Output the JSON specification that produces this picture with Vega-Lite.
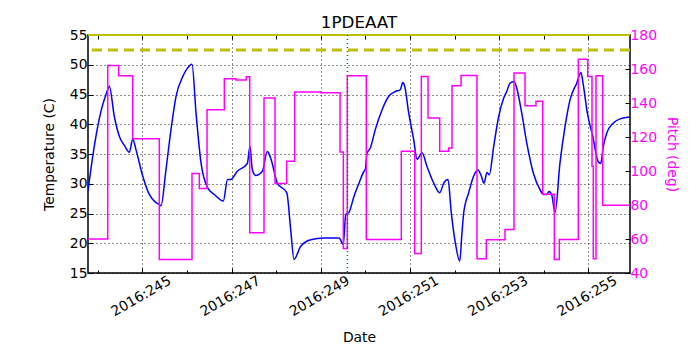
{
  "$schema": "https://vega.github.io/schema/vega-lite/v6.json",
  "autosize": {"type": "none"},
  "width": 542,
  "height": 238,
  "padding": {"left": 88, "top": 35, "right": 70, "bottom": 77},
  "background": "white",
  "title": {"text": "1PDEAAT", "font": "DejaVu Sans", "fontSize": 16.7, "fontWeight": "normal", "color": "black", "anchor": "middle", "offset": -4},
  "datasets": {
    "temp": [
      {"day": 243.782, "t": 28.8}, {"day": 243.888, "t": 34.6}, {"day": 244.0, "t": 39.6}, {"day": 244.112, "t": 43.3},
      {"day": 244.2, "t": 45.3}, {"day": 244.26, "t": 46.4}, {"day": 244.372, "t": 41.3}, {"day": 244.484, "t": 38.0},
      {"day": 244.6, "t": 36.4}, {"day": 244.709, "t": 35.3}, {"day": 244.785, "t": 37.5}, {"day": 244.859, "t": 35.7},
      {"day": 245.009, "t": 31.3}, {"day": 245.157, "t": 28.2}, {"day": 245.28, "t": 27.0}, {"day": 245.381, "t": 26.5},
      {"day": 245.419, "t": 26.3}, {"day": 245.531, "t": 32.4}, {"day": 245.643, "t": 39.1}, {"day": 245.756, "t": 44.7},
      {"day": 245.906, "t": 48.0}, {"day": 246.0, "t": 49.3}, {"day": 246.114, "t": 50.1}, {"day": 246.204, "t": 41.9},
      {"day": 246.316, "t": 33.5}, {"day": 246.466, "t": 29.3}, {"day": 246.614, "t": 28.2}, {"day": 246.816, "t": 27.1},
      {"day": 246.91, "t": 30.7}, {"day": 246.982, "t": 30.7}, {"day": 247.13, "t": 32.1}, {"day": 247.354, "t": 33.4},
      {"day": 247.415, "t": 36.3}, {"day": 247.466, "t": 32.4}, {"day": 247.543, "t": 31.4}, {"day": 247.691, "t": 32.1},
      {"day": 247.803, "t": 35.4}, {"day": 247.879, "t": 34.3}, {"day": 248.027, "t": 30.1}, {"day": 248.238, "t": 28.5},
      {"day": 248.327, "t": 22.3}, {"day": 248.401, "t": 17.3}, {"day": 248.552, "t": 19.5}, {"day": 248.776, "t": 20.6},
      {"day": 249.074, "t": 20.9}, {"day": 249.41, "t": 20.9}, {"day": 249.507, "t": 19.8}, {"day": 249.561, "t": 24.8},
      {"day": 249.634, "t": 25.2}, {"day": 249.747, "t": 27.9}, {"day": 249.859, "t": 30.1}, {"day": 249.971, "t": 32.1},
      {"day": 250.0, "t": 32.4}, {"day": 250.038, "t": 35.1}, {"day": 250.112, "t": 36.0}, {"day": 250.224, "t": 39.1},
      {"day": 250.374, "t": 42.4}, {"day": 250.525, "t": 44.7}, {"day": 250.673, "t": 45.5}, {"day": 250.785, "t": 45.8},
      {"day": 250.839, "t": 47.0}, {"day": 250.883, "t": 46.4}, {"day": 250.973, "t": 41.9}, {"day": 251.085, "t": 37.4},
      {"day": 251.159, "t": 34.1}, {"day": 251.271, "t": 35.2}, {"day": 251.383, "t": 32.9}, {"day": 251.534, "t": 30.1},
      {"day": 251.668, "t": 28.5}, {"day": 251.758, "t": 30.1}, {"day": 251.854, "t": 30.7}, {"day": 251.928, "t": 25.1},
      {"day": 252.018, "t": 20.1}, {"day": 252.117, "t": 17.0}, {"day": 252.168, "t": 21.8}, {"day": 252.206, "t": 25.1},
      {"day": 252.318, "t": 28.5}, {"day": 252.43, "t": 31.3}, {"day": 252.527, "t": 32.3}, {"day": 252.601, "t": 31.3},
      {"day": 252.661, "t": 30.1}, {"day": 252.729, "t": 31.9}, {"day": 252.78, "t": 31.5}, {"day": 252.879, "t": 36.3},
      {"day": 252.991, "t": 41.3}, {"day": 253.103, "t": 44.4}, {"day": 253.17, "t": 45.5}, {"day": 253.244, "t": 46.9},
      {"day": 253.334, "t": 47.2}, {"day": 253.395, "t": 46.1}, {"day": 253.507, "t": 41.9}, {"day": 253.619, "t": 36.9},
      {"day": 253.767, "t": 31.8}, {"day": 253.917, "t": 29.0}, {"day": 253.991, "t": 28.2}, {"day": 254.067, "t": 28.2},
      {"day": 254.119, "t": 28.7}, {"day": 254.179, "t": 28.2}, {"day": 254.253, "t": 25.1}, {"day": 254.365, "t": 33.5},
      {"day": 254.478, "t": 39.6}, {"day": 254.59, "t": 44.1}, {"day": 254.74, "t": 46.9}, {"day": 254.836, "t": 48.7},
      {"day": 254.888, "t": 46.6}, {"day": 254.978, "t": 41.9}, {"day": 255.099, "t": 38.0}, {"day": 255.224, "t": 33.7},
      {"day": 255.278, "t": 33.4}, {"day": 255.336, "t": 36.3}, {"day": 255.413, "t": 38.5}, {"day": 255.561, "t": 40.2},
      {"day": 255.711, "t": 40.9}, {"day": 255.935, "t": 41.2}
    ],
    "pitch": [
      {"day": 243.782, "p": 60}, {"day": 244.224, "p": 162}, {"day": 244.471, "p": 156}, {"day": 244.785, "p": 119},
      {"day": 245.381, "p": 48}, {"day": 246.114, "p": 98.5}, {"day": 246.278, "p": 89.7}, {"day": 246.451, "p": 136},
      {"day": 246.839, "p": 154.3}, {"day": 247.1, "p": 153.5}, {"day": 247.33, "p": 155.5}, {"day": 247.408, "p": 63.7},
      {"day": 247.729, "p": 143}, {"day": 247.975, "p": 92.6}, {"day": 248.238, "p": 105.7}, {"day": 248.417, "p": 146.5},
      {"day": 249.0, "p": 146}, {"day": 249.433, "p": 111.2}, {"day": 249.507, "p": 54.4}, {"day": 249.596, "p": 156},
      {"day": 250.022, "p": 59.7}, {"day": 250.807, "p": 111.6}, {"day": 251.108, "p": 51.5}, {"day": 251.256, "p": 155.6},
      {"day": 251.406, "p": 131.2}, {"day": 251.668, "p": 111.6}, {"day": 251.87, "p": 113.6}, {"day": 251.944, "p": 150.2},
      {"day": 252.146, "p": 156.2}, {"day": 252.504, "p": 48.4}, {"day": 252.713, "p": 59.5}, {"day": 253.132, "p": 65.6},
      {"day": 253.334, "p": 157.6}, {"day": 253.581, "p": 138.4}, {"day": 253.827, "p": 141}, {"day": 253.978, "p": 86.3},
      {"day": 254.238, "p": 47.9}, {"day": 254.35, "p": 59.7}, {"day": 254.776, "p": 165.8}, {"day": 254.987, "p": 155.6},
      {"day": 255.083, "p": 102.8}, {"day": 255.112, "p": 48.4}, {"day": 255.173, "p": 156}, {"day": 255.323, "p": 79.9},
      {"day": 255.935, "p": 79.9}
    ],
    "limits": [
      {"limit": 52.5, "kind": "dashed"},
      {"limit": 55, "kind": "solid"}
    ],
    "marker": [{"day": 249.6}]
  },
  "resolve": {"scale": {"y": "independent"}, "axis": {"x": "independent"}},
  "layer": [
    {
      "data": {"name": "temp"},
      "mark": {"type": "line", "color": "#0000ff", "strokeWidth": 1.5, "interpolate": "monotone", "clip": true},
      "encoding": {
        "x": {"field": "day", "type": "quantitative",
              "scale": {"domain": [243.782, 255.935], "nice": false, "zero": false},
              "axis": {"title": "Date", "orient": "bottom", "values": [245, 247, 249, 251, 253, 255],
                       "labelExpr": "'2016:' + datum.value", "labelAngle": -30, "labelAlign": "center",
                       "labelBaseline": "middle", "labelPadding": 28, "labelOffset": -1.5,
                       "grid": true, "titlePadding": 12}},
        "y": {"field": "t", "type": "quantitative",
              "scale": {"domain": [15, 55], "nice": false, "zero": false},
              "axis": {"title": "Temperature (C)", "orient": "left", "values": [15, 20, 25, 30, 35, 40, 45, 50, 55],
                       "grid": true, "labelPadding": 6, "titlePadding": 13}}
      }
    },
    {
      "data": {"name": "pitch"},
      "mark": {"type": "line", "color": "#ff00ff", "strokeWidth": 1.5, "interpolate": "step-after", "clip": true},
      "encoding": {
        "x": {"field": "day", "type": "quantitative", "axis": null},
        "y": {"field": "p", "type": "quantitative",
              "scale": {"domain": [40, 180], "nice": false, "zero": false},
              "axis": {"title": "Pitch (deg)", "orient": "right", "values": [40, 60, 80, 100, 120, 140, 160, 180],
                       "grid": false, "labelColor": "#ff00ff", "titleColor": "#ff00ff", "labelPadding": 5, "titlePadding": 8}}
      }
    },
    {
      "data": {"name": "limits"},
      "transform": [{"filter": "datum.kind == 'dashed'"}],
      "mark": {"type": "rule", "color": "#bfbf00", "strokeWidth": 3, "strokeDash": [10, 6]},
      "encoding": {
        "y": {"field": "limit", "type": "quantitative", "scale": {"domain": [15, 55], "nice": false, "zero": false}, "axis": null}
      }
    },
    {
      "data": {"name": "limits"},
      "transform": [{"filter": "datum.kind == 'solid'"}],
      "mark": {"type": "rule", "color": "#bfbf00", "strokeWidth": 2},
      "encoding": {
        "y": {"field": "limit", "type": "quantitative", "scale": {"domain": [15, 55], "nice": false, "zero": false}, "axis": null}
      }
    },
    {
      "data": {"name": "marker"},
      "mark": {"type": "rule", "color": "#008000", "strokeWidth": 1.5, "strokeDash": [1, 3]},
      "encoding": {
        "x": {"field": "day", "type": "quantitative", "axis": null}
      }
    },
    {
      "data": {"name": "marker"},
      "mark": {"type": "rule", "opacity": 0},
      "encoding": {
        "x": {"field": "day", "type": "quantitative",
              "axis": {"orient": "bottom", "title": null, "labels": false, "grid": false, "tickSize": -3,
                       "values": [244, 246, 248, 250, 252, 254]}}
      }
    },
    {
      "data": {"name": "marker"},
      "mark": {"type": "rule", "opacity": 0},
      "encoding": {
        "x": {"field": "day", "type": "quantitative",
              "axis": {"orient": "top", "title": null, "labels": false, "grid": false, "tickSize": -4,
                       "values": [244, 245, 246, 247, 248, 249, 250, 251, 252, 253, 254, 255]}}
      }
    }
  ],
  "config": {
    "font": "DejaVu Sans",
    "view": {"stroke": "black", "strokeWidth": 1.5},
    "axis": {
      "labelFont": "DejaVu Sans", "labelFontSize": 13.9, "labelColor": "black",
      "titleFont": "DejaVu Sans", "titleFontSize": 13.9, "titleFontWeight": "normal", "titleColor": "black",
      "domain": false, "tickColor": "black", "tickSize": -5, "tickWidth": 1,
      "gridColor": "black", "gridDash": [1, 3], "gridWidth": 0.9, "gridOpacity": 1
    }
  }
}
